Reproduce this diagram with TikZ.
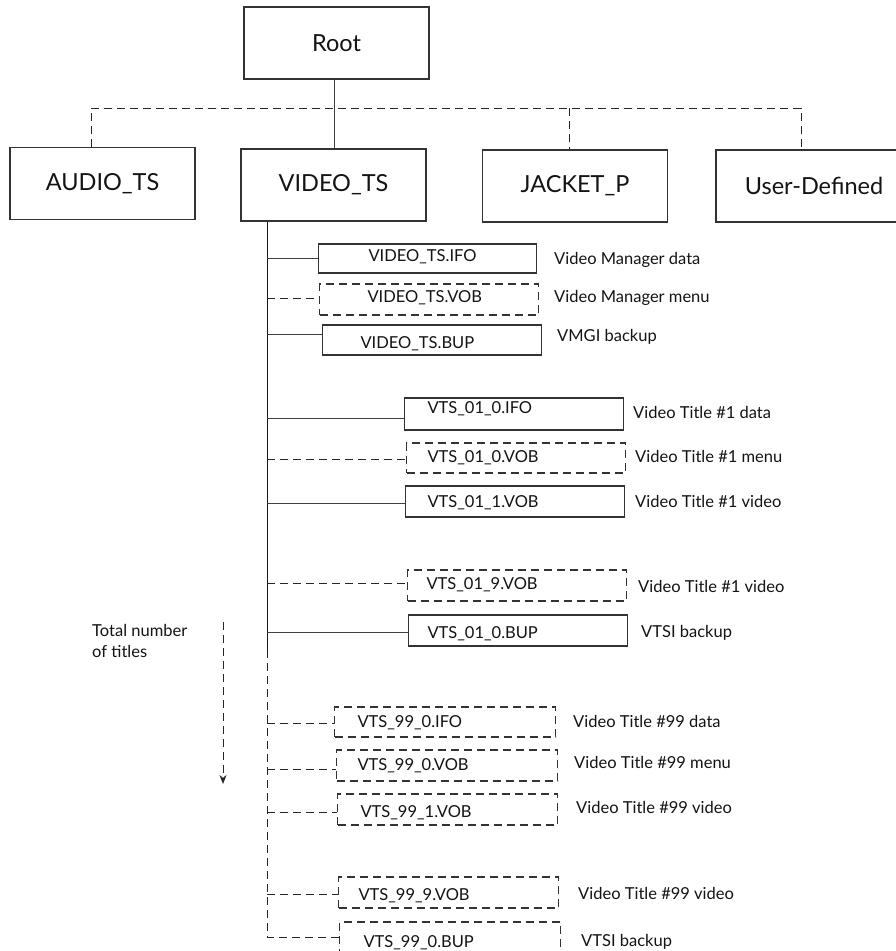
\documentclass[tikz,border=0pt]{standalone}
\usepackage{fontspec}
\setmainfont{Lato}
\usetikzlibrary{arrows.meta}
\begin{document}
\begin{tikzpicture}[x=1pt,y=-1pt,
  every node/.style={text=black!92},
  line/.style={draw=black!75, line width=1pt},
  dsh/.style={draw=black!85, line width=1pt, dash pattern=on 8pt off 5pt},
  bigbox/.style={draw=black!80, line width=1.1pt, minimum width=185pt, minimum height=72pt, inner sep=0pt,
    font=\fontsize{23.5}{28}\selectfont},
  filebox/.style={draw=black!80, line width=1.1pt, anchor=base west, inner ysep=0pt, align=left,
    font=\fontsize{16.5}{20}\selectfont},
  dfilebox/.style={filebox, dash pattern=on 8pt off 5pt},
  lbl/.style={anchor=base west, inner sep=0pt, font=\fontsize{16.5}{20}\selectfont}]
\clip (0,0) rectangle (896,951);
\fill[white] (0,0) rectangle (896,951);

% top level
\node[bigbox] (root) at (336.5,43) {Root};
\node[bigbox] (audio) at (102.5,183.5) {AUDIO\_TS};
\node[bigbox] (vts) at (333.5,185) {VIDEO\_TS};
\node[bigbox] (jacket) at (575,186) {JACKET\_P};
\node[bigbox, minimum width=196pt] (user) at (814,186) {User-Defined};

\coordinate (busL) at (91,108);
\coordinate (busJ) at (569,108);
\coordinate (busR) at (801,108);
\coordinate (rootx) at (334,108);
\draw[dsh] (audio.north -| busL) -- (busL) -- (busR) -- (user.north -| busR);
\draw[dsh] (busJ) -- (jacket.north -| busJ);
\draw[line] (root.south -| rootx) -- (vts.north -| rootx);

% files
\node[filebox, inner xsep=50pt, text width=118pt, text height=17pt, text depth=12pt] (f1) at (318,261) {VIDEO\_TS.IFO};
\node[dfilebox, inner xsep=48pt, text width=123pt, text height=18pt, text depth=13pt] (f2) at (319,302) {VIDEO\_TS.VOB};
\node[filebox, inner xsep=38pt, text width=143pt, text height=23pt, text depth=7pt] (f3) at (322,348) {VIDEO\_TS.BUP};
\node[filebox, inner xsep=23pt, text width=173pt, text height=15pt, text depth=17pt] (f4) at (404,413) {VTS\_01\_0.IFO};
\node[dfilebox, inner xsep=21pt, text width=177pt, text height=19pt, text depth=11pt] (f5) at (406,462) {VTS\_01\_0.VOB};
\node[filebox, inner xsep=22pt, text width=175pt, text height=21pt, text depth=10pt] (f6) at (405,507) {VTS\_01\_1.VOB};
\node[dfilebox, inner xsep=19pt, text width=181pt, text height=19pt, text depth=12pt] (f7) at (407,589) {VTS\_01\_9.VOB};
\node[filebox, inner xsep=19pt, text width=181pt, text height=23pt, text depth=8pt] (f8) at (408,638) {VTS\_01\_0.BUP};
\node[dfilebox, inner xsep=23pt, text width=175pt, text height=20pt, text depth=10pt] (f9) at (334,727) {VTS\_99\_0.IFO};
\node[dfilebox, inner xsep=21pt, text width=179pt, text height=20pt, text depth=11pt] (f10) at (336,770) {VTS\_99\_0.VOB};
\node[dfilebox, inner xsep=23pt, text width=174pt, text height=23pt, text depth=8pt] (f11) at (337,817) {VTS\_99\_1.VOB};
\node[dfilebox, inner xsep=20pt, text width=180pt, text height=23pt, text depth=8pt] (f12) at (338,900) {VTS\_99\_9.VOB};
\node[dfilebox, inner xsep=24pt, text width=173pt, text height=25pt, text depth=13pt] (f13) at (339,947) {VTS\_99\_0.BUP};

% labels
\node[lbl] (l1) at (554,264) {Video Manager data};
\node[lbl] (l2) at (554,302) {Video Manager menu};
\node[lbl] (l3) at (557,341) {VMGI backup};
\node[lbl] (l4) at (633,418) {Video Title \#1 data};
\node[lbl] (l5) at (635,462) {Video Title \#1 menu};
\node[lbl] (l6) at (635,507) {Video Title \#1 video};
\node[lbl] (l7) at (638,592) {Video Title \#1 video};
\node[lbl] (l8) at (641,637) {VTSI backup};
\node[lbl] (l9) at (573,727) {Video Title \#99 data};
\node[lbl] (l10) at (574,768) {Video Title \#99 menu};
\node[lbl] (l11) at (576,813) {Video Title \#99 video};
\node[lbl] (l12) at (578,899) {Video Title \#99 video};
\node[lbl] (l13) at (581,946) {VTSI backup};

\node[lbl, align=left, font=\fontsize{16.5}{21}\selectfont] (tot) at (92,657) {Total number\\of titles};

% trunk
\coordinate (tk) at (267,0);
\coordinate (tkmid) at (267,650);
\coordinate (tkend) at (267,937);
\draw[line, draw=black!90] (vts.south -| tk) -- (tkmid);
\draw[dsh] (tkmid) -- (tkend) -- (f13.west |- tkend);

% branches
\coordinate (c1) at (267,258);
\coordinate (c2) at (267,298);
\coordinate (c3) at (267,334);
\coordinate (c4) at (267,418);
\coordinate (c5) at (267,459);
\coordinate (c6) at (267,503);
\coordinate (c7) at (267,583);
\coordinate (c8) at (267,632);
\coordinate (c9) at (267,723);
\coordinate (c10) at (267,769);
\coordinate (c11) at (267,812);
\coordinate (c12) at (267,894);
\draw[line] (c1) -- (c1 -| f1.west);
\draw[dsh] (c2) -- (c2 -| f2.west);
\draw[line] (c3) -- (c3 -| f3.west);
\draw[line] (c4) -- (c4 -| f4.west);
\draw[dsh] (c5) -- (c5 -| f5.west);
\draw[line] (c6) -- (c6 -| f6.west);
\draw[dsh] (c7) -- (c7 -| f7.west);
\draw[line] (c8) -- (c8 -| f8.west);
\draw[dsh] (c9) -- (c9 -| f9.west);
\draw[dsh] (c10) -- (c10 -| f10.west);
\draw[dsh] (c11) -- (c11 -| f11.west);
\draw[dsh] (c12) -- (c12 -| f12.west);

% total arrow
\coordinate (a1) at (223,622);
\coordinate (a2) at (223,784);
\draw[dsh, -{Stealth[length=9pt,width=7pt]}] (a1) -- (a2);
\end{tikzpicture}
\end{document}
